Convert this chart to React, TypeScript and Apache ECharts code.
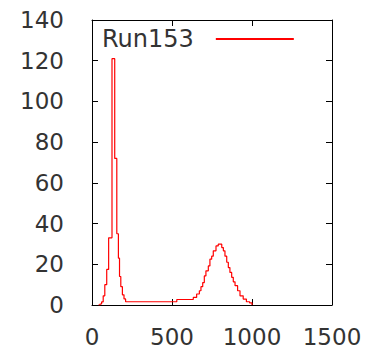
import React, { useEffect, useRef } from "react";
import * as echarts from "echarts";

const seriesName = "Run153";
const xTicks = { min: 0, max: 1500, interval: 500 };
const yTicks = { min: 0, max: 140, interval: 20 };

// left edges of histogram bins (x units) and the count in each bin
const binEdges = [
  40, 50, 60, 70, 80, 92, 104, 125, 142, 155, 165, 172, 180, 190, 200, 210, 530, 633, 654, 671,
  681, 692, 702, 712, 727, 737, 748, 758, 775, 789, 811, 821, 831, 842, 852, 862, 873, 883, 894,
  910, 925, 945, 965, 985, 1000,
];
const counts = [
  0, 0.5, 1.5, 4.5, 10, 17.5, 33, 121, 72, 35, 23, 14, 9, 5, 3, 1.6, 2.7, 3.7, 5.4, 7, 9, 11,
  14.3, 16.8, 19.2, 22.5, 24, 26.6, 29, 29.9, 28.2, 26.6, 24, 21, 18.4, 16, 13.6, 11.4, 9.5, 7,
  4.5, 2.9, 1.6, 1,
];

export default function App() {
  const ref = useRef<HTMLDivElement>(null);
  useEffect(() => {
    if (!ref.current) return;
    const chart = echarts.init(ref.current, undefined, { renderer: "svg" });
    const data = binEdges.map((e, i) => [e, i < counts.length ? counts[i] : 0]);
    const font = "DejaVu Sans";
    const textColor = "#333";
    const axisLine = { show: true, onZero: false, lineStyle: { color: "#000", width: 1 } };
    const tick = { show: true, inside: true, length: 6, lineStyle: { color: "#000", width: 1 } };
    const fmt = (v: number) => String(v);
    chart.setOption({
      animation: false,
      backgroundColor: "#fff",
      grid: { left: 92, right: 35, top: 20, bottom: 42, containLabel: false },
      legend: {
        show: true,
        left: 97,
        top: 22,
        align: "right",
        itemWidth: 78,
        itemHeight: 14,
        data: [{ name: seriesName, icon: "path://M0,6 L78,6 L78,8 L0,8 Z" }],
        itemStyle: { color: "#ff0000" },
        textStyle: {
          fontFamily: font,
          fontSize: 24,
          color: textColor,
          padding: [0, 17, 0, 0],
        },
      },
      xAxis: [
        {
          type: "value",
          ...xTicks,
          position: "bottom",
          axisLine,
          axisTick: tick,
          splitLine: { show: false },
          axisLabel: { fontFamily: font, fontSize: 23, color: textColor, margin: 20, formatter: fmt },
        },
        {
          type: "value",
          ...xTicks,
          position: "top",
          axisLine,
          axisTick: tick,
          splitLine: { show: false },
          axisLabel: { show: false },
        },
      ],
      yAxis: [
        {
          type: "value",
          ...yTicks,
          position: "left",
          axisLine,
          axisTick: tick,
          splitLine: { show: false },
          axisLabel: { fontFamily: font, fontSize: 23, color: textColor, margin: 28, formatter: fmt },
        },
        {
          type: "value",
          ...yTicks,
          position: "right",
          axisLine,
          axisTick: tick,
          splitLine: { show: false },
          axisLabel: { show: false },
        },
      ],
      series: [
        {
          name: seriesName,
          type: "line",
          step: "end",
          data,
          symbol: "none",
          lineStyle: { color: "#ff0000", width: 1.2 },
          itemStyle: { color: "#ff0000" },
        },
      ],
    });
    return () => chart.dispose();
  }, []);
  return <div ref={ref} style={{ width: 367, height: 348, position: "absolute", left: 0, top: 0 }} />;
}
